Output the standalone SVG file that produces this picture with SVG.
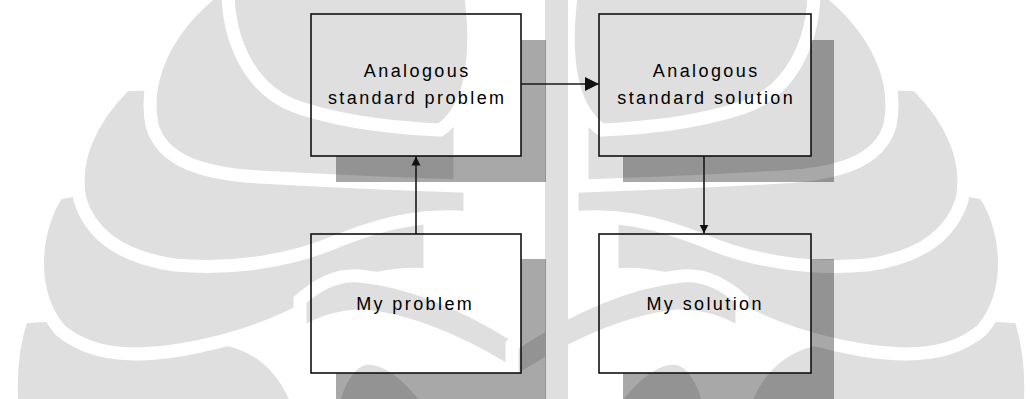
<svg xmlns="http://www.w3.org/2000/svg" width="1036" height="399" viewBox="0 0 1036 399">
  <style>
    .wm { fill: #dfdfdf; stroke: #ffffff; stroke-width: 13; }
    .shadow { fill: #000000; fill-opacity: 0.34; }
    .box { fill: none; stroke: #111111; stroke-width: 1.6; }
    .lbl { font-family: "Liberation Sans", Arial, sans-serif; font-size: 18px; letter-spacing: 2.4px; fill: #000000; text-anchor: middle; }
    .conn { stroke: #1a1a1a; stroke-width: 1.6; fill: none; }
  </style>
  <defs>
    <marker id="bigHead" viewBox="0 0 10 10" refX="10" refY="5" markerWidth="16" markerHeight="14" markerUnits="userSpaceOnUse" orient="auto">
      <path d="M0,0 L10,5 L0,10 Z" fill="#111111"/>
    </marker>
    <marker id="smallHead" viewBox="0 0 10 10" refX="10" refY="5" markerWidth="9" markerHeight="10" markerUnits="userSpaceOnUse" orient="auto">
      <path d="M0,0 L10,5 L0,10 Z" fill="#111111"/>
    </marker>
    <g id="half">
      <path class="wm" d="M 22,317 C 12,345 10,380 12,410 L 300,410 C 290,380 270,350 230,340 C 170,325 90,310 22,317 Z"/>
      <path class="wm" d="M 58,193 C 35,225 26,290 60,330 C 90,355 130,358 180,350 C 240,340 285,322 320,300 C 360,278 400,272 430,275 L 430,190 C 300,180 150,175 58,193 Z"/>
      <path class="wm" d="M 125,85 C 90,120 72,160 80,200 C 92,238 125,258 175,265 C 230,270 290,262 340,240 C 390,220 430,214 470,218 L 470,110 C 320,95 200,80 125,85 Z"/>
      <path class="wm" d="M 215,-10 C 165,30 143,80 152,125 C 162,162 205,174 260,177 C 330,181 400,184 460,186 L 460,40 C 400,20 300,-5 215,-10 Z"/>
      <path class="wm" d="M 228,-10 C 228,40 250,92 300,108 C 350,124 400,128 440,130 C 470,110 480,60 470,-10 Z"/>
      <path class="wm" d="M 300,300 C 320,282 340,274 360,276 C 420,282 480,312 530,345 L 530,385 C 480,352 420,322 365,316 C 340,316 318,322 300,336 Z"/>
      <path class="wm" d="M 330,420 C 335,382 350,360 367,358 C 392,358 420,385 440,420 Z"/>
    </g>
  </defs>

  <g id="watermark">
    <use href="#half"/>
    <use href="#half" transform="translate(1042,0) scale(-1,1)"/>
    <rect x="545" y="0" width="23" height="399" fill="#dfdfdf"/>
  </g>

  <g id="shadows">
    <path class="shadow" d="M521,40 H546 V182 H336 V156 H521 Z"/>
    <path class="shadow" d="M811,40 H834 V182 H623 V156 H811 Z"/>
    <path class="shadow" d="M521,259 H546 V399 H336 V373 H521 Z"/>
    <path class="shadow" d="M811,259 H834 V399 H623 V373 H811 Z"/>
  </g>

  <g id="connectors">
    <line class="conn" x1="521" y1="84" x2="599" y2="84" marker-end="url(#bigHead)"/>
    <line class="conn" x1="416" y1="234" x2="416" y2="156.5" marker-end="url(#smallHead)"/>
    <line class="conn" x1="704" y1="156" x2="704" y2="233.5" marker-end="url(#smallHead)"/>
  </g>

  <g id="node-analogous-problem">
    <rect class="box" x="311" y="14" width="210" height="142"/>
    <text class="lbl" x="417.2" y="77">Analogous</text>
    <text class="lbl" x="417.2" y="104">standard problem</text>
  </g>

  <g id="node-analogous-solution">
    <rect class="box" x="599" y="14" width="212" height="142"/>
    <text class="lbl" x="706.2" y="77">Analogous</text>
    <text class="lbl" x="706.2" y="104">standard solution</text>
  </g>

  <g id="node-my-problem">
    <rect class="box" x="311" y="234" width="210" height="139"/>
    <text class="lbl" x="415.2" y="310">My problem</text>
  </g>

  <g id="node-my-solution">
    <rect class="box" x="599" y="234" width="212" height="139"/>
    <text class="lbl" x="705.2" y="310">My solution</text>
  </g>
</svg>
